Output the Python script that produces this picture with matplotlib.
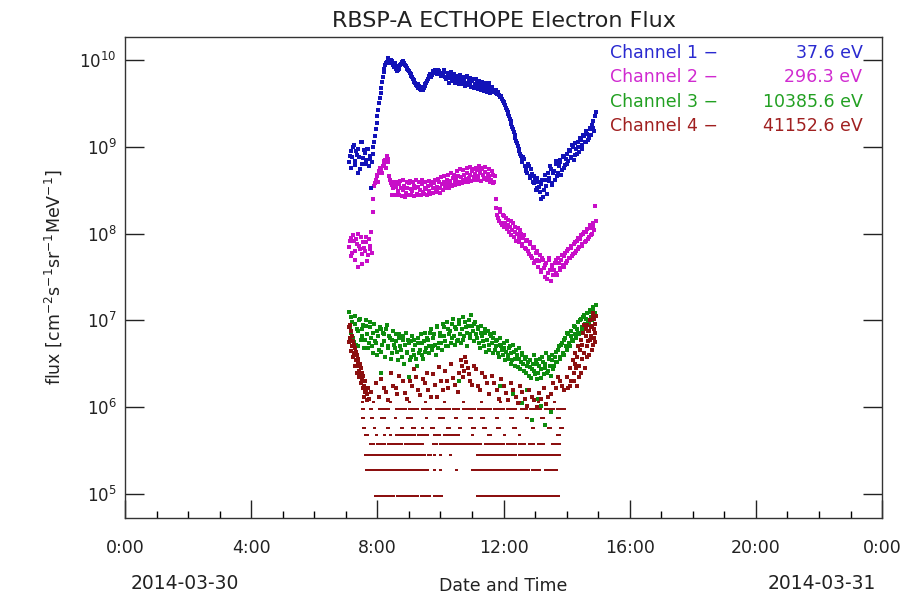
import matplotlib
matplotlib.use("Agg")
import matplotlib.pyplot as plt
import numpy as np

# ---- data (time in hours of 2014-03-30, log10 flux) ----
# channels 1-3: two interleaved sample sets, every 0.05 h from 7.10 (a) and 7.125 (b)
t_start, t_step, n_samp = 7.10, 0.05, 157

ch1_log = [
    8.82, 8.95, 8.88, 9.02, 8.79, 8.91, 8.98, 8.74, 9.05, 8.87,
    8.93, 8.80, 8.97, 8.86, 8.52, 8.92, 9.05, 9.20, 9.35, 9.50,
    9.62, 9.75, 9.86, 9.94, 9.98, 10.01, 9.97, 9.99, 9.94, 9.96,
    9.90, 9.88, 9.91, 9.95, 9.97, 9.96, 9.93, 9.90, 9.87, 9.84,
    9.80, 9.77, 9.74, 9.70, 9.72, 9.67, 9.69, 9.66, 9.70, 9.74,
    9.78, 9.82, 9.80, 9.85, 9.86, 9.88, 9.84, 9.87, 9.85, 9.83,
    9.86, 9.81, 9.80, 9.84, 9.79, 9.82, 9.78, 9.80, 9.77, 9.81,
    9.76, 9.79, 9.75, 9.78, 9.80, 9.74, 9.77, 9.73, 9.76, 9.78,
    9.72, 9.75, 9.71, 9.74, 9.70, 9.73, 9.69, 9.72, 9.68, 9.70,
    9.67, 9.66, 9.64, 9.65, 9.61, 9.60, 9.57, 9.55, 9.52, 9.48,
    9.42, 9.38, 9.32, 9.26, 9.20, 9.14, 9.07, 9.01, 8.95, 8.90,
    8.82, 8.86, 8.75, 8.70, 8.78, 8.64, 8.69, 8.58, 8.62, 8.52,
    8.60, 8.48, 8.57, 8.42, 8.62, 8.55, 8.70, 8.61, 8.75, 8.58,
    8.72, 8.80, 8.66, 8.78, 8.85, 8.73, 8.88, 8.79, 8.92, 8.84,
    8.95, 8.87, 9.00, 8.91, 8.98, 9.05, 8.94, 9.08, 9.02, 9.12,
    9.06, 9.15, 9.10, 9.20, 9.25, 9.22, 9.35,
]
ch1b_log = [
    8.90, 8.76, 9.00, 8.84, 8.95, 8.70, 8.88, 9.06, 8.80, 8.96,
    8.85, 8.98, 8.78, 8.90, 8.83, 9.00, 9.12, 9.28, 9.42, 9.56,
    9.68, 9.80, 9.90, 9.96, 10.02, 9.98, 10.00, 9.96, 9.92, 9.93,
    9.87, 9.90, 9.94, 9.98, 9.99, 9.94, 9.91, 9.88, 9.85, 9.82,
    9.78, 9.75, 9.71, 9.68, 9.70, 9.65, 9.67, 9.68, 9.72, 9.76,
    9.80, 9.84, 9.83, 9.87, 9.89, 9.86, 9.88, 9.85, 9.82, 9.85,
    9.88, 9.78, 9.85, 9.74, 9.86, 9.76, 9.84, 9.73, 9.82, 9.72,
    9.83, 9.72, 9.81, 9.70, 9.82, 9.71, 9.79, 9.69, 9.78, 9.68,
    9.78, 9.67, 9.76, 9.66, 9.75, 9.64, 9.74, 9.63, 9.73, 9.62,
    9.69, 9.63, 9.66, 9.62, 9.63, 9.58, 9.59, 9.53, 9.50, 9.45,
    9.40, 9.35, 9.30, 9.23, 9.17, 9.10, 9.04, 8.98, 8.92, 8.85,
    8.88, 8.78, 8.72, 8.80, 8.66, 8.74, 8.60, 8.66, 8.50, 8.64,
    8.54, 8.40, 8.62, 8.50, 8.68, 8.46, 8.64, 8.78, 8.56, 8.70,
    8.62, 8.84, 8.70, 8.82, 8.68, 8.90, 8.76, 8.86, 8.80, 8.96,
    8.88, 9.02, 8.85, 9.04, 8.92, 9.00, 9.10, 8.98, 9.14, 9.05,
    9.18, 9.08, 9.22, 9.14, 9.30, 9.18, 9.40,
]

ch2_log = [
    7.85, 7.95, 7.78, 7.92, 7.70, 7.88, 8.00, 7.82, 7.65, 7.90,
    7.80, 7.96, 7.75, 7.86, 8.02, 8.25, 8.55, 8.62, 8.68, 8.72,
    8.75, 8.70, 8.80, 8.85, 8.90, 8.82, 8.62, 8.56, 8.52, 8.58,
    8.54, 8.49, 8.57, 8.52, 8.50, 8.55, 8.47, 8.53, 8.58, 8.51,
    8.49, 8.55, 8.52, 8.46, 8.54, 8.50, 8.57, 8.48, 8.53, 8.51,
    8.55, 8.49, 8.56, 8.52, 8.58, 8.50, 8.54, 8.59, 8.53, 8.57,
    8.60, 8.55, 8.62, 8.57, 8.61, 8.56, 8.64, 8.59, 8.63, 8.66,
    8.60, 8.65, 8.62, 8.68, 8.63, 8.70, 8.64, 8.67, 8.72, 8.65,
    8.69, 8.73, 8.66, 8.70, 8.74, 8.67, 8.71, 8.64, 8.69, 8.66,
    8.62, 8.68, 8.60, 8.40, 8.22, 8.15, 8.25, 8.10, 8.20, 8.12,
    8.05, 8.16, 8.08, 7.98, 8.12, 8.02, 7.92, 8.06, 7.95, 8.00,
    7.88, 7.98, 7.82, 7.93, 7.76, 7.90, 7.72, 7.85, 7.68, 7.80,
    7.62, 7.75, 7.58, 7.70, 7.50, 7.66, 7.55, 7.72, 7.45, 7.62,
    7.58, 7.70, 7.52, 7.66, 7.60, 7.75, 7.62, 7.78, 7.68, 7.82,
    7.72, 7.86, 7.76, 7.90, 7.80, 7.95, 7.85, 7.98, 7.88, 8.02,
    7.92, 8.05, 7.96, 8.10, 8.00, 8.08, 8.32,
]
ch2b_log = [
    7.92, 7.74, 7.98, 7.80, 7.94, 7.62, 7.86, 7.96, 7.76, 7.84,
    7.90, 7.68, 7.94, 7.82, 7.78, 8.40, 8.58, 8.66, 8.60, 8.76,
    8.70, 8.78, 8.84, 8.76, 8.86, 8.66, 8.58, 8.44, 8.60, 8.45,
    8.60, 8.44, 8.61, 8.43, 8.62, 8.42, 8.60, 8.44, 8.61, 8.45,
    8.60, 8.43, 8.62, 8.44, 8.59, 8.45, 8.62, 8.46, 8.60, 8.44,
    8.61, 8.46, 8.60, 8.47, 8.62, 8.48, 8.63, 8.47, 8.65, 8.50,
    8.66, 8.52, 8.67, 8.53, 8.70, 8.55, 8.68, 8.56, 8.72, 8.57,
    8.74, 8.58, 8.73, 8.60, 8.76, 8.60, 8.77, 8.61, 8.75, 8.62,
    8.76, 8.62, 8.78, 8.61, 8.76, 8.63, 8.77, 8.62, 8.74, 8.60,
    8.72, 8.58, 8.66, 8.30, 8.18, 8.28, 8.12, 8.22, 8.08, 8.18,
    8.10, 8.02, 8.14, 8.04, 7.96, 8.08, 8.00, 7.90, 8.04, 7.86,
    7.95, 7.84, 7.92, 7.80, 7.88, 7.74, 7.84, 7.66, 7.78, 7.70,
    7.68, 7.56, 7.72, 7.60, 7.64, 7.48, 7.70, 7.58, 7.64, 7.52,
    7.66, 7.55, 7.72, 7.58, 7.70, 7.64, 7.74, 7.66, 7.80, 7.72,
    7.84, 7.74, 7.88, 7.78, 7.92, 7.82, 7.94, 7.86, 8.00, 7.90,
    8.02, 7.94, 8.06, 7.98, 8.12, 8.04, 8.15,
]

ch3_log = [
    7.10, 6.85, 6.98, 6.75, 7.05, 6.90, 6.70, 7.02, 6.82, 6.95,
    6.78, 7.00, 6.68, 6.92, 6.80, 6.62, 6.96, 6.74, 6.88, 6.66,
    6.90, 6.72, 6.84, 6.58, 6.95, 6.70, 6.80, 6.62, 6.88, 6.68,
    6.76, 6.55, 6.84, 6.66, 6.78, 6.50, 6.86, 6.64, 6.74, 6.58,
    6.82, 6.60, 6.72, 6.48, 6.80, 6.66, 6.74, 6.56, 6.86, 6.68,
    6.78, 6.62, 6.90, 6.70, 6.84, 6.60, 6.94, 6.74, 6.86, 6.66,
    6.92, 6.76, 6.98, 6.70, 6.88, 6.80, 7.02, 6.72, 6.90, 6.78,
    6.96, 6.74, 7.04, 6.82, 6.92, 6.70, 7.00, 6.84, 6.94, 6.76,
    6.98, 6.80, 6.90, 6.68, 6.94, 6.76, 6.86, 6.64, 6.88, 6.72,
    6.82, 6.62, 6.86, 6.70, 6.78, 6.58, 6.80, 6.66, 6.74, 6.54,
    6.76, 6.60, 6.70, 6.50, 6.72, 6.56, 6.66, 6.46, 6.68, 6.52,
    6.62, 6.42, 6.58, 6.48, 6.36, 6.55, 6.44, 6.60, 6.38, 6.50,
    6.40, 6.56, 6.34, 6.52, 6.45, 6.62, 6.42, 6.58, 6.36, 6.54,
    6.48, 6.64, 6.52, 6.70, 6.56, 6.74, 6.60, 6.80, 6.66, 6.84,
    6.70, 6.88, 6.76, 6.92, 6.80, 6.98, 6.84, 7.02, 6.88, 7.06,
    6.92, 7.08, 6.96, 7.12, 7.00, 7.16, 7.08,
]
ch3b_log = [
    6.92, 7.04, 6.80, 6.96, 6.72, 6.88, 7.00, 6.78, 6.90, 6.68,
    6.94, 6.84, 6.74, 6.98, 6.70, 6.86, 6.76, 6.60, 6.82, 6.92,
    6.64, 6.86, 6.76, 6.90, 6.68, 6.82, 6.56, 6.78, 6.72, 6.84,
    6.64, 6.80, 6.70, 6.58, 6.82, 6.72, 6.62, 6.78, 6.54, 6.76,
    6.66, 6.78, 6.56, 6.74, 6.62, 6.84, 6.60, 6.76, 6.64, 6.80,
    6.70, 6.86, 6.66, 6.80, 6.72, 6.92, 6.68, 6.82, 6.74, 6.96,
    6.82, 6.70, 6.90, 6.84, 6.74, 6.96, 6.82, 6.92, 6.76, 7.00,
    6.84, 6.90, 6.78, 6.98, 6.86, 6.94, 6.80, 7.06, 6.88, 6.96,
    6.84, 6.92, 6.74, 6.86, 6.82, 6.70, 6.90, 6.78, 6.66, 6.84,
    6.74, 6.80, 6.66, 6.76, 6.62, 6.72, 6.70, 6.60, 6.68, 6.64,
    6.56, 6.68, 6.62, 6.54, 6.64, 6.48, 6.60, 6.56, 6.44, 6.60,
    6.50, 6.56, 6.40, 6.52, 6.46, 6.34, 6.50, 6.42, 6.54, 6.32,
    6.48, 6.44, 6.58, 6.38, 6.50, 6.40, 6.56, 6.48, 6.60, 6.44,
    6.58, 6.52, 6.66, 6.58, 6.72, 6.62, 6.78, 6.70, 6.86, 6.74,
    6.82, 6.78, 6.94, 6.84, 6.90, 6.86, 7.00, 6.92, 7.04, 6.96,
    7.02, 7.00, 7.10, 7.04, 7.12, 7.06, 7.18,
]
# a few low green points
ch3_extra_t = [11.9, 12.3, 12.6, 12.9, 13.1, 13.3, 13.5, 10.6, 9.0, 8.1, 12.75, 13.2]
ch3_extra_log = [6.25, 6.15, 6.05, 5.85, 6.10, 5.80, 5.95, 6.30, 6.35, 6.40, 6.20, 6.02]

# channel 4: continuous part (times, log10 flux)
ch4_t = [
    7.10, 7.13, 7.16, 7.19, 7.22, 7.25, 7.28, 7.31, 7.34, 7.37, 7.40,
    7.43, 7.46, 7.49, 7.52, 7.55, 7.58, 7.61, 7.64, 7.67, 7.70,
    7.11, 7.14, 7.17, 7.20, 7.23, 7.26, 7.29, 7.32, 7.35, 7.38,
    7.41, 7.44, 7.47, 7.50, 7.53, 7.56, 7.59, 7.62, 7.66, 7.72,
    7.80, 7.95, 8.05, 8.20, 8.35, 8.50, 8.62, 8.80, 8.95, 9.10, 9.22,
    9.35, 9.50, 9.62, 9.75, 9.90, 10.02, 10.15, 10.25, 10.40, 10.55,
    10.68, 10.75, 10.82, 10.90, 11.00, 11.12, 11.25, 11.40, 11.55,
    11.70, 11.85, 12.00, 12.15, 12.30, 12.45, 12.60, 12.75, 12.90,
    13.05, 13.20, 13.35, 13.50, 13.65, 13.80, 13.92,
    14.00, 14.05, 14.10, 14.15, 14.20, 14.24, 14.28, 14.32, 14.36,
    14.40, 14.44, 14.48, 14.52, 14.56, 14.60, 14.63, 14.66, 14.69,
    14.72, 14.75, 14.78, 14.81, 14.84, 14.87, 14.90, 14.92, 14.70,
    14.80, 14.88, 14.58,
    14.26, 14.34, 14.42, 14.50, 14.54, 14.62, 14.68, 14.74, 14.76,
    14.82, 14.86, 14.89, 14.91, 14.64, 14.46, 14.38, 14.30, 14.22,
    14.12, 14.85,
]
ch4_log = [
    6.92, 6.80, 6.88, 6.70, 6.76, 6.62, 6.68, 6.55, 6.60, 6.48, 6.52,
    6.42, 6.38, 6.45, 6.32, 6.36, 6.25, 6.30, 6.20, 6.15, 6.22,
    6.75, 6.95, 6.65, 6.82, 6.58, 6.72, 6.48, 6.64, 6.40, 6.56,
    6.35, 6.50, 6.28, 6.40, 6.22, 6.30, 6.12, 6.18, 6.08, 6.10,
    6.18, 6.28, 6.12, 6.22, 6.08, 6.25, 6.15, 6.30, 6.10, 6.24, 6.35,
    6.14, 6.28, 6.20, 6.38, 6.12, 6.30, 6.42, 6.22, 6.34, 6.18,
    6.48, 6.42, 6.52, 6.38, 6.26, 6.44, 6.20, 6.35, 6.15,
    6.28, 6.10, 6.24, 6.08, 6.20, 6.05, 6.18, 6.02, 6.12,
    6.00, 6.10, 6.04, 6.15, 6.22, 6.30, 6.20,
    6.35, 6.22, 6.45, 6.30, 6.55, 6.40, 6.62, 6.25, 6.70,
    6.48, 6.78, 6.56, 6.85, 6.62, 6.90, 6.70, 6.95, 6.76,
    6.88, 7.00, 6.82, 6.94, 6.72, 7.02, 6.86, 7.05, 6.60,
    6.66, 6.90, 6.45,
    6.50, 6.58, 6.66, 6.72, 6.95, 6.82, 6.88, 6.78, 6.92,
    7.04, 6.80, 6.96, 6.75, 6.58, 6.40, 6.35, 6.45, 6.30,
    6.25, 7.08,
]
# more scattered channel 4 points between 1e6 and 4e6
ch4_mid_t = [
    8.10, 8.28, 8.42, 8.58, 8.70, 8.88, 9.02, 9.16, 9.30, 9.44,
    9.56, 9.70, 9.84, 9.96, 10.08, 10.20, 10.32, 10.46, 10.60, 10.64,
    10.72, 10.78, 10.86, 10.95, 11.05, 11.18, 11.32, 11.48, 11.62, 11.78,
    11.92, 12.08, 12.22, 12.38, 12.52, 12.68, 12.82, 12.98, 13.12, 13.28,
    13.42, 13.58, 13.72, 13.86,
]
ch4_mid_log = [
    6.32, 6.18, 6.40, 6.22, 6.36, 6.16, 6.30, 6.44, 6.20, 6.32,
    6.40, 6.12, 6.26, 6.46, 6.20, 6.30, 6.50, 6.26, 6.40, 6.55,
    6.35, 6.58, 6.45, 6.30, 6.48, 6.24, 6.40, 6.28, 6.36, 6.20,
    6.32, 6.16, 6.28, 6.12, 6.24, 6.10, 6.20, 6.08, 6.16, 6.22,
    6.12, 6.28, 6.35, 6.25,
]

# channel 4: low count levels (multiples of one count) and the time spans they occupy
ch4_one_count = 0.95e5
ch4_levels = [1, 2, 3, 4, 5, 6, 8, 10, 12]
ch4_spans = [
    [(7.94, 8.55), (8.62, 8.95), (9.0, 9.3), (9.38, 9.7), (9.78, 10.06),
     (11.17, 11.5), (11.58, 11.85), (11.92, 13.75)],
    [(7.63, 8.85), (8.9, 9.6), (9.8, 9.83), (10.0, 10.03), (10.5, 10.53),
     (11.0, 12.8), (12.9, 13.17), (13.3, 13.7)],
    [(7.62, 8.1), (8.15, 9.0), (9.05, 9.5), (9.6, 9.7), (9.8, 9.83),
     (10.0, 10.05), (10.3, 10.35), (11.17, 12.4), (12.5, 12.9), (12.95, 13.8)],
    [(7.78, 7.9), (7.98, 8.25), (8.33, 8.8), (8.88, 9.46), (9.75, 9.9),
     (10.0, 10.7), (10.75, 11.3), (11.4, 12.0), (12.1, 12.4), (12.5, 12.7),
     (12.8, 13.0), (13.1, 13.3), (13.55, 13.8)],
    [(7.62, 7.72), (7.95, 8.0), (8.2, 8.25), (8.4, 8.45), (8.6, 9.2),
     (9.3, 9.6), (9.8, 10.0), (10.1, 10.6), (11.0, 11.05), (11.5, 11.6),
     (12.0, 12.05), (12.5, 12.55), (13.7, 13.8)],
    [(7.55, 7.62), (7.9, 7.95), (8.3, 8.36), (8.75, 8.82), (9.1, 9.2),
     (9.4, 9.46), (9.7, 9.8), (10.2, 10.3), (10.6, 10.66), (11.0, 11.1),
     (11.35, 11.45), (11.8, 11.9), (12.3, 12.4), (12.9, 12.96),
     (13.4, 13.5), (13.8, 13.9)],
    [(7.52, 7.58), (7.8, 7.86), (8.1, 8.25), (8.55, 8.6), (8.95, 9.1),
     (9.55, 9.6), (9.95, 10.1), (10.45, 10.52), (10.9, 11.0), (11.3, 11.4),
     (11.75, 11.82), (12.2, 12.3), (12.7, 12.8), (13.2, 13.3), (13.7, 13.8)],
    [(7.5, 7.6), (7.75, 7.85), (8.05, 8.4), (8.6, 8.9), (9.0, 9.3),
     (9.4, 9.7), (9.85, 10.3), (10.4, 10.6), (10.7, 11.1), (11.2, 11.6),
     (11.7, 12.0), (12.1, 12.4), (12.55, 12.75), (12.85, 13.2),
     (13.3, 13.6), (13.7, 13.95)],
    [(7.5, 7.55), (7.85, 7.9), (8.4, 8.45), (9.0, 9.05), (9.5, 9.55),
     (10.1, 10.15), (10.7, 10.75), (11.3, 11.35), (11.9, 11.95),
     (12.5, 12.55), (13.1, 13.15), (13.6, 13.65)],
]

channel_names = ["Channel 1", "Channel 2", "Channel 3", "Channel 4"]
channel_energy = ["37.6 eV", "296.3 eV", "10385.6 eV", "41152.6 eV"]
dot_colors = ["#1212b8", "#c80ec8", "#0e8c0e", "#8c1010"]
text_colors = ["#2a2ad0", "#d02ad0", "#22a022", "#a02020"]

hour_ticks = [0, 4, 8, 12, 16, 20, 24]
hour_labels = ["0:00", "4:00", "8:00", "12:00", "16:00", "20:00", "0:00"]

# ---- figure ----
fig = plt.figure(figsize=(9.16, 5.97), dpi=100)
ax = fig.add_axes([0.1365, 0.1323, 0.8265, 0.8057])

t_a = t_start + t_step * np.arange(n_samp)
t_b = t_a + t_step / 2
ms = 2.4
for la, lb, c in [(ch3_log, ch3b_log, dot_colors[2]),
                  (ch2_log, ch2b_log, dot_colors[1]),
                  (ch1_log, ch1b_log, dot_colors[0])]:
    ax.plot(t_a, 10 ** np.array(la), 's', ms=ms, mew=0, color=c)
    ax.plot(t_b, 10 ** np.array(lb), 's', ms=ms, mew=0, color=c)
ax.plot(ch3_extra_t, 10 ** np.array(ch3_extra_log), 's', ms=ms, mew=0, color=dot_colors[2])

# channel 4 drawn on top
ax.plot(ch4_t, 10 ** np.array(ch4_log), 's', ms=ms, mew=0, color=dot_colors[3])
ax.plot(ch4_mid_t, 10 ** np.array(ch4_mid_log), 's', ms=ms, mew=0, color=dot_colors[3])
for lev, spans in zip(ch4_levels, ch4_spans):
    for t0, t1 in spans:
        tt = np.arange(t0, t1 + 1e-6, 0.03)
        ax.plot(tt, np.full(len(tt), lev * ch4_one_count), 's', ms=1.9, mew=0,
                color=dot_colors[3])

ax.set_yscale("log")
ax.set_ylim(10 ** 4.724, 10 ** 10.265)
ax.set_xlim(0, 24)
ax.set_yticks([1e5, 1e6, 1e7, 1e8, 1e9, 1e10])
ax.set_yticklabels([r"$10^{%d}$" % k for k in range(5, 11)])
ax.yaxis.set_minor_locator(matplotlib.ticker.NullLocator())
ax.set_xticks(hour_ticks)
ax.set_xticklabels(hour_labels)
ax.set_xticks(range(25), minor=True)

ax.tick_params(axis="y", which="major", direction="in", length=14, width=1.0,
               right=True, labelsize=12, pad=6, colors="#222222")
ax.tick_params(axis="x", which="major", direction="in", length=13, width=1.0,
               top=False, labelsize=12.5, pad=15, colors="#222222")
ax.tick_params(axis="x", which="minor", direction="in", length=5, width=1.0, top=False)
for s in ax.spines.values():
    s.set_linewidth(1.0)
    s.set_color("#333333")

ax.set_title("RBSP-A ECTHOPE Electron Flux", fontsize=16, pad=7, color="#222222")
ax.set_ylabel(r"flux [cm$^{-2}$s$^{-1}$sr$^{-1}$MeV$^{-1}$]", fontsize=12.5, color="#222222")
ax.yaxis.set_label_coords(-0.080, 0.5)

ax.text(0.5, -0.141, "Date and Time", transform=ax.transAxes, ha="center",
        va="center", fontsize=12.5, color="#222222")
ax.text(0.079, -0.137, "2014-03-30", transform=ax.transAxes, ha="center",
        va="center", fontsize=13.5, color="#222222")
ax.text(0.921, -0.137, "2014-03-31", transform=ax.transAxes, ha="center",
        va="center", fontsize=13.5, color="#222222")

leg_y = [0.967, 0.917, 0.865, 0.815]
for name, en, c, y in zip(channel_names, channel_energy, text_colors, leg_y):
    ax.text(0.641, y, name + " \u2212", transform=ax.transAxes, ha="left",
            va="center", fontsize=12.5, color=c)
    ax.text(0.974, y, en, transform=ax.transAxes, ha="right",
            va="center", fontsize=12.5, color=c)

fig.savefig("out.png", dpi=100)
